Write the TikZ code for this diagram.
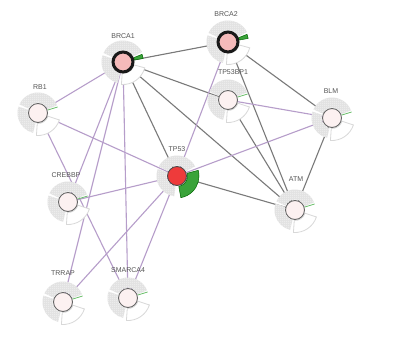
\documentclass[tikz,border=0pt]{standalone}
\usepackage{fontspec}
\setsansfont{Liberation Sans}
\usetikzlibrary{patterns,calc}
\pgfdeclarelayer{bg}
\pgfdeclarelayer{edges}
\pgfdeclarelayer{rings}
\pgfsetlayers{bg,edges,rings,main}
\pgfdeclarepatternformonly{finedots}{\pgfpointorigin}{\pgfqpoint{2pt}{2pt}}{\pgfqpoint{2pt}{2pt}}{\pgfpathcircle{\pgfqpoint{1pt}{1pt}}{0.55pt}\pgfusepath{fill}}
\definecolor{edgegray}{HTML}{7A7A7A}
\definecolor{edgepurp}{HTML}{B69DCA}
\definecolor{ringgray}{HTML}{E2E2E2}
\definecolor{ringline}{HTML}{D8D8D8}
\definecolor{greenw}{HTML}{3AA33A}
\definecolor{greenl}{HTML}{6CC06C}
\definecolor{nodefill}{HTML}{FCF1F1}
\definecolor{pinkfill}{HTML}{F5BABA}
\definecolor{redfill}{HTML}{EE3B3B}
\definecolor{labelcol}{HTML}{555555}
\tikzset{
  plain/.style={circle, minimum size=19pt, inner sep=0pt, draw=black!60, line width=0.9pt, fill=nodefill},
  brcanode/.style={circle, minimum size=20pt, inner sep=0pt, draw=black!90, line width=3pt, fill=pinkfill},
  tpnode/.style={circle, minimum size=19pt, inner sep=0pt, draw=black!70, line width=0.9pt, fill=redfill},
  lbl/.style={font=\sffamily\fontsize{7}{8}\selectfont, text=labelcol, inner sep=0pt},
  gedge/.style={draw=edgegray, line width=1.1pt},
  pedge/.style={draw=edgepurp, line width=1.1pt},
  dotsec/.style={fill=ringgray, postaction={pattern=finedots, pattern color=white}},
  whitesec/.style={fill=white, draw=ringline, line width=0.8pt},
  greensec/.style={fill=greenw, draw=green!40!black, line width=0.5pt},
  greenline/.style={draw=greenl, line width=0.8pt}
}
\newcommand\ringsector[6]{\path[#6] ($(#1)+(#2:#4)$) arc[start angle=#2,end angle=#3,radius=#4] -- ($(#1)+(#3:#5)$) arc[start angle=#3,end angle=#2,radius=#5] -- cycle;}
\newcommand\stdring[1]{%
  \ringsector{#1}{22}{155}{10.5}{20.5}{dotsec}
  \ringsector{#1}{162}{256}{10.5}{20.5}{dotsec}
  \ringsector{#1}{266}{342}{10.5}{22.5}{whitesec}
  \draw[greenline] ($(#1)+(17:10)$) -- ($(#1)+(17:20.5)$);}
\newcommand\brcaring[1]{%
  \ringsector{#1}{28}{155}{11.5}{21.5}{dotsec}
  \ringsector{#1}{162}{256}{11.5}{21.5}{dotsec}
  \ringsector{#1}{266}{345}{11.5}{22.5}{whitesec}
  \ringsector{#1}{10}{22}{11.5}{20.5}{greensec}}
\newcommand\tpring[1]{%
  \ringsector{#1}{28}{152}{10.5}{20.5}{dotsec}
  \ringsector{#1}{160}{262}{10.5}{20.5}{dotsec}
  \ringsector{#1}{-80}{15}{10.5}{22}{greensec}}
\begin{document}
\begin{tikzpicture}[x=1pt,y=1pt]
\useasboundingbox (0,0) rectangle (395,-342);
\begin{pgfonlayer}{bg}
\fill[white] (0,0) rectangle (395,-342);
\end{pgfonlayer}
% nodes
\node[brcanode] (brca1) at (123,-62) {};
\node[brcanode] (brca2) at (228,-42) {};
\node[tpnode] (tp53) at (177,-176) {};
\node[plain] (rb1) at (38,-113) {};
\node[plain] (tp53bp1) at (228,-100) {};
\node[plain] (blm) at (332,-118) {};
\node[plain] (atm) at (295,-210) {};
\node[plain] (crebbp) at (68,-202) {};
\node[plain] (trrap) at (63,-302) {};
\node[plain] (smarca4) at (128,-298) {};
% labels
\node[lbl] (brca1-t) at (123,-36) {BRCA1};
\node[lbl] (brca2-t) at (226,-14) {BRCA2};
\node[lbl] (tp53-t) at (177,-149) {TP53};
\node[lbl] (rb1-t) at (40,-87) {RB1};
\node[lbl] (tp53bp1-t) at (233,-72) {TP53BP1};
\node[lbl] (blm-t) at (331,-91) {BLM};
\node[lbl] (atm-t) at (296,-179) {ATM};
\node[lbl] (crebbp-t) at (66,-175) {CREBBP};
\node[lbl] (trrap-t) at (63,-273) {TRRAP};
\node[lbl] (smarca4-t) at (128,-270) {SMARCA4};
% rings
\begin{pgfonlayer}{rings}
\brcaring{brca1}
\brcaring{brca2}
\tpring{tp53}
\stdring{rb1}
\stdring{tp53bp1}
\stdring{blm}
\stdring{atm}
\stdring{crebbp}
\stdring{trrap}
\stdring{smarca4}
\end{pgfonlayer}
% edges
\begin{pgfonlayer}{edges}
\draw[gedge] (brca1.center) -- (brca2.center);
\draw[gedge] (brca1.center) -- (tp53bp1.center);
\draw[gedge] (brca1.center) -- (tp53.center);
\draw[gedge] (brca1.center) -- (atm.center);
\draw[gedge] (brca2.center) -- (blm.center);
\draw[gedge] (brca2.center) -- (atm.center);
\draw[gedge] (tp53bp1.center) -- (atm.center);
\draw[gedge] (blm.center) -- (atm.center);
\draw[gedge] (tp53.center) -- (atm.center);
\draw[pedge] (rb1.center) -- (brca1.center);
\draw[pedge] (rb1.center) -- (tp53.center);
\draw[pedge] (rb1.center) -- (smarca4.center);
\draw[pedge] (crebbp.center) -- (brca1.center);
\draw[pedge] (crebbp.center) -- (tp53.center);
\draw[pedge] (trrap.center) -- (brca1.center);
\draw[pedge] (trrap.center) -- (tp53.center);
\draw[pedge] (smarca4.center) -- (brca1.center);
\draw[pedge] (smarca4.center) -- (tp53.center);
\draw[pedge] (brca2.center) -- (tp53.center);
\draw[pedge] (tp53.center) -- (blm.center);
\draw[pedge] (tp53bp1.center) -- (blm.center);
\end{pgfonlayer}
\end{tikzpicture}
\end{document}
